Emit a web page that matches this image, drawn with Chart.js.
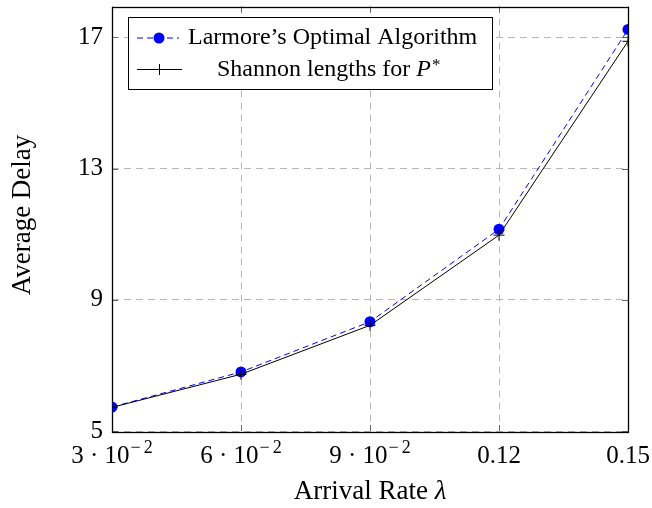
<!DOCTYPE html>
<html><head><meta charset="utf-8">
<script src="https://cdn.jsdelivr.net/npm/chart.js@4/dist/chart.umd.min.js"></script>
<style>html,body{margin:0;padding:0;background:#fff}#wrap{width:652px;height:508px}</style>
</head><body><div id="wrap"><canvas id="c" width="652" height="508"></canvas></div>
<script>
const arrivalRates = [0.03, 0.06, 0.09, 0.12, 0.15];
const larmoreDelay = [5.73, 6.80, 8.33, 11.15, 17.24];
const shannonDelay = [5.72, 6.73, 8.22, 10.97, 16.88];
const yTickValues = [5, 9, 13, 17];
const xTickBase = ['3 \u00b7 10', '6 \u00b7 10', '9 \u00b7 10', '0.12', '0.15'];
const xTickExp = ['\u22122', '\u22122', '\u22122', '', ''];
const seriesNames = ['Larmore\u2019s Optimal Algorithm', 'Shannon lengths for '];
const xTitle = 'Arrival Rate ';
const xTitleSymbol = '\u03bb';
const yTitle = 'Average Delay';

const FONT = '"Liberation Serif", "Times New Roman", serif';

const decor = {
  id: 'decor',
  beforeDatasetsDraw(chart) {
    const {ctx, chartArea: a, scales: {x, y}} = chart;
    ctx.save();
    ctx.strokeStyle = '#666'; ctx.lineWidth = 1;
    ctx.beginPath();
    arrivalRates.forEach(v => {
      const px = Math.round(x.getPixelForValue(v)) + 0.5;
      ctx.moveTo(px, a.bottom); ctx.lineTo(px, a.bottom - 6);
      ctx.moveTo(px, a.top); ctx.lineTo(px, a.top + 6);
    });
    yTickValues.forEach(v => {
      const py = Math.round(y.getPixelForValue(v)) + 0.5;
      ctx.moveTo(a.left, py); ctx.lineTo(a.left + 6, py);
      ctx.moveTo(a.right, py); ctx.lineTo(a.right - 6, py);
    });
    ctx.stroke();
    ctx.strokeStyle = '#000'; ctx.lineWidth = 1.3;
    ctx.strokeRect(Math.round(a.left) + 0.5, Math.round(a.top) + 0.5, Math.round(a.right - a.left), Math.round(a.bottom - a.top));
    ctx.restore();
  },
  afterDraw(chart) {
    const {ctx, scales: {x}} = chart;
    ctx.save();
    ctx.fillStyle = '#000';
    ctx.textBaseline = 'alphabetic';
    const baseY = 463;
    arrivalRates.forEach((v, i) => {
      const px = x.getPixelForValue(v);
      ctx.font = '25px ' + FONT;
      const wb = ctx.measureText(xTickBase[i]).width;
      let we = 0;
      if (xTickExp[i]) {
        ctx.font = '18px ' + FONT;
        we = ctx.measureText(xTickExp[i]).width + 4;
      }
      const start = px - (wb + we) / 2;
      ctx.font = '25px ' + FONT;
      ctx.textAlign = 'left';
      ctx.fillText(xTickBase[i], start, baseY);
      if (xTickExp[i]) {
        ctx.font = '18px ' + FONT;
        const minus = xTickExp[i][0], rest = xTickExp[i].slice(1);
        ctx.fillText(minus, start + wb + 1, baseY - 10);
        const wm = ctx.measureText(minus).width;
        ctx.fillText(rest, start + wb + 4 + wm, baseY - 10);
      }
    });
    // x title with italic lambda
    ctx.font = '27px ' + FONT;
    const tw1 = ctx.measureText(xTitle).width;
    ctx.font = 'italic 27px ' + FONT;
    const tw2 = ctx.measureText(xTitleSymbol).width;
    const tx = 370 - (tw1 + tw2) / 2;
    ctx.textAlign = 'left';
    ctx.font = '27px ' + FONT;
    ctx.fillText(xTitle, tx, 499);
    ctx.font = 'italic 27px ' + FONT;
    ctx.fillText(xTitleSymbol, tx + tw1, 499);
    ctx.textAlign = 'center';
    ctx.font = '27px ' + FONT;
    ctx.save();
    ctx.translate(30, 215);
    ctx.rotate(-Math.PI / 2);
    ctx.fillText(yTitle, 0, 0);
    ctx.restore();
    // legend
    const lx = 128.5, ly = 17.5, lw = 364, lh = 72;
    ctx.fillStyle = '#fff';
    ctx.fillRect(lx, ly, lw, lh);
    ctx.strokeStyle = '#000'; ctx.lineWidth = 1;
    ctx.strokeRect(lx, ly, lw, lh);
    const r1 = 38, r2 = 69;
    ctx.strokeStyle = '#0000ff'; ctx.setLineDash([6, 4]);
    ctx.beginPath(); ctx.moveTo(137, r1); ctx.lineTo(179, r1); ctx.stroke();
    ctx.setLineDash([]);
    ctx.fillStyle = '#0000ff';
    ctx.beginPath(); ctx.arc(159, r1, 5.5, 0, Math.PI * 2); ctx.fill();
    ctx.fillStyle = '#000';
    ctx.font = '24px ' + FONT;
    ctx.textBaseline = 'alphabetic';
    ctx.textAlign = 'left';
    ctx.fillText(seriesNames[0], 188, 44);
    ctx.strokeStyle = '#000';
    ctx.beginPath(); ctx.moveTo(137, r2 + 0.5); ctx.lineTo(182, r2 + 0.5);
    ctx.moveTo(159.5, r2 - 5); ctx.lineTo(159.5, r2 + 6);
    ctx.stroke();
    ctx.font = '24px ' + FONT;
    const w1 = ctx.measureText(seriesNames[1]).width;
    const s = 217;
    ctx.fillText(seriesNames[1], s, 76);
    ctx.font = 'italic 24px ' + FONT;
    const w2 = ctx.measureText('P').width;
    ctx.fillText('P', s + w1, 76);
    ctx.font = '17px ' + FONT;
    ctx.fillText('*', s + w1 + w2 + 1, 70);
    ctx.restore();
  }
};

new Chart(document.getElementById('c'), {
  type: 'line',
  data: {
    datasets: [
      {
        label: seriesNames[0],
        data: arrivalRates.map((v, i) => ({x: v, y: larmoreDelay[i]})),
        borderColor: '#0000ff', backgroundColor: '#0000ff',
        borderWidth: 1, borderDash: [6, 4],
        pointStyle: 'circle', pointRadius: 5.5, pointBorderWidth: 0,
        tension: 0, order: 2
      },
      {
        label: 'Shannon lengths for P*',
        data: arrivalRates.map((v, i) => ({x: v, y: shannonDelay[i]})),
        borderColor: '#000', backgroundColor: '#000',
        borderWidth: 1,
        pointStyle: 'cross', pointRadius: 5.5, pointBorderWidth: 1,
        tension: 0, order: 1
      }
    ]
  },
  options: {
    responsive: false, animation: false,
    events: [],
    layout: {padding: {top: 4, right: 24, left: 0, bottom: 0}},
    plugins: {legend: {display: false}, tooltip: {enabled: false}, title: {display: false}},
    scales: {
      x: {
        type: 'linear', min: 0.03, max: 0.15,
        afterBuildTicks: s => { s.ticks = arrivalRates.map(v => ({value: v})); },
        afterFit: s => { s.height = 77; s.paddingLeft = 0; s.paddingRight = 0; },
        ticks: {display: false},
        border: {display: false, dash: [7, 5]},
        grid: {color: '#b8b8b8', lineWidth: 1, drawTicks: false},
      },
      y: {
        type: 'linear', min: 5, max: 17.94,
        afterBuildTicks: s => { s.ticks = yTickValues.map(v => ({value: v})); },
        afterFit: s => { s.width = 112; s.paddingTop = 0; s.paddingBottom = 0; },
        ticks: {color: '#000', font: {family: FONT, size: 25}, padding: 9},
        border: {display: false, dash: [7, 5]},
        grid: {color: '#b8b8b8', lineWidth: 1, drawTicks: false}
      }
    }
  },
  plugins: [decor]
});
</script>
</body></html>
